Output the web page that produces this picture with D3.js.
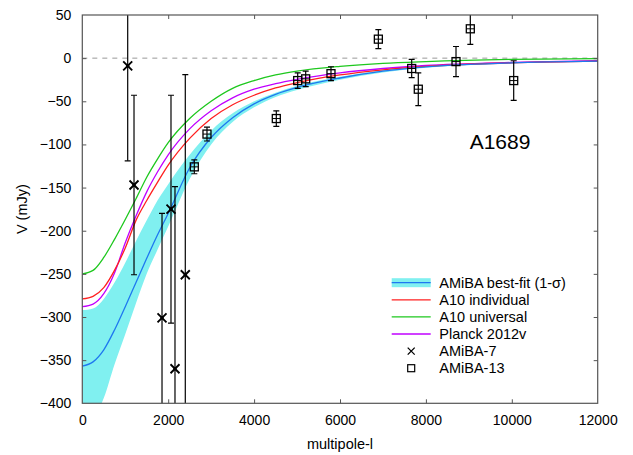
<!DOCTYPE html>
<html><head><meta charset="utf-8">
<script src="https://cdn.jsdelivr.net/npm/d3@7"></script>
<style>
body{margin:0;background:#fff;}
text{font-family:"Liberation Sans",Arial,sans-serif;}
</style></head>
<body><svg id="c" width="633" height="455"></svg>
<script>
// multipole grid for model curves
const ells = [0,250,500,750,1000,1250,1500,1750,2000,2500,3000,3500,4000,4500,5000,6000,7000,8000,10000,12000];
const amibaFit   = [-357,-352,-338,-315,-288,-260,-232,-205,-180,-127,-92,-69,-53,-42,-34,-23,-15,-10,-5.5,-3.5];
const amibaUpper = [-292,-290,-279,-260,-237,-212,-188,-165,-146,-112,-84,-64,-50,-40,-32,-21.5,-14,-9,-5,-3];
const amibaLower = [-440,-420,-394,-355,-320,-284,-250,-222,-195,-140,-100,-74,-57,-45,-37,-25,-16.5,-11,-6,-4];
const a10Indiv   = [-279,-276,-266,-246,-220,-188,-165,-144,-124,-93,-70,-54,-43,-34.5,-28.5,-19.5,-13.5,-9.5,-5.5,-3.5];
const a10Univ    = [-250,-246,-231,-210,-187,-163,-138,-117,-98,-70,-50,-35,-26,-19.5,-15,-9.5,-6,-4,-1.5,-0.5];
const planck     = [-288,-285,-273,-249,-214,-183,-155,-132,-112,-82,-61,-46,-36,-29.5,-24.5,-17,-12,-8.5,-5,-3];

// AMiBA-7 data
const a7l   = [1057,1204,1856,2065,2158,2398];
const a7V   = [-9,-147,-301,-175,-360,-251];
const a7err = [110,104,121,132,211,232];
// AMiBA-13 data
const a13l   = [2608,2903,4517,5015,5201,5790,6893,7669,7823,8701,9034,10044];
const a13V   = [-126,-88,-70,-26,-24,-18,22,-12,-36,-4,34,-26];
const a13err = [8,8,9,9,9,8,11,10.5,19,17.5,18,23];

const xTicks = [0,2000,4000,6000,8000,10000,12000];
const yTicks = [50,0,-50,-100,-150,-200,-250,-300,-350,-400];

const legendLabels = ["AMiBA best-fit (1-\u03c3)","A10 individual","A10 universal","Planck 2012v","AMiBA-7","AMiBA-13"];

const L=82.3,R=597.7,T=15,B=403.3;
const x=d3.scaleLinear().domain([0,12000]).range([L,R]);
const y=d3.scaleLinear().domain([-400,50]).range([B,T]);
const svg=d3.select("#c");
const axisCol="#555";

svg.append("defs").append("clipPath").attr("id","clip")
  .append("rect").attr("x",L).attr("y",T).attr("width",R-L).attr("height",B-T);

const plot=svg.append("g").attr("clip-path","url(#clip)");

// zero line
plot.append("line").attr("x1",L).attr("x2",R).attr("y1",y(0)).attr("y2",y(0))
  .attr("stroke","#999").attr("stroke-width",1).attr("stroke-dasharray","5,5");

// band
const area=d3.area().x((d,i)=>x(ells[i])).y0((d,i)=>y(amibaLower[i])).y1((d,i)=>y(amibaUpper[i])).curve(d3.curveMonotoneX);
plot.append("path").datum(ells).attr("d",area).attr("fill","#80f0f0");

const line=arr=>d3.line().x((d,i)=>x(ells[i])).y((d,i)=>y(arr[i])).curve(d3.curveMonotoneX)(ells);
[[a10Univ,"#1ec81e"],[planck,"#c000ff"],[a10Indiv,"#ff2020"],[amibaFit,"#1e78f0"]].forEach(([arr,c])=>{
  plot.append("path").attr("d",line(arr)).attr("fill","none").attr("stroke",c).attr("stroke-width",1.3);
});

// error bars
function errbar(g,l,v,e){
  const cx=x(l);
  g.append("line").attr("x1",cx).attr("x2",cx).attr("y1",y(v+e)).attr("y2",y(v-e)).attr("stroke","#000").attr("stroke-width",1.2);
  [v+e,v-e].forEach(t=>g.append("line").attr("x1",cx-3).attr("x2",cx+3).attr("y1",y(t)).attr("y2",y(t)).attr("stroke","#000").attr("stroke-width",1.2));
}
a7l.forEach((l,i)=>{
  errbar(plot,l,a7V[i],a7err[i]);
  const cx=x(l),cy=y(a7V[i]),s=4.5;
  plot.append("path").attr("d",`M${cx-s},${cy-s}L${cx+s},${cy+s}M${cx-s},${cy+s}L${cx+s},${cy-s}`)
    .attr("stroke","#000").attr("stroke-width",1.9);
  plot.append("circle").attr("cx",cx).attr("cy",cy).attr("r",1.8).attr("fill","#000");
});
a13l.forEach((l,i)=>{
  errbar(plot,l,a13V[i],a13err[i]);
  const cx=x(l),cy=y(a13V[i]),s=4;
  plot.append("rect").attr("x",cx-s).attr("y",cy-s).attr("width",2*s).attr("height",2*s)
    .attr("fill","none").attr("stroke","#000").attr("stroke-width",1.3);
  plot.append("line").attr("x1",cx-s).attr("x2",cx+s).attr("y1",cy).attr("y2",cy).attr("stroke","#000").attr("stroke-width",1);
});

// axes
const fs="14px";
const gx=svg.append("g").attr("transform",`translate(0,${B})`)
  .call(d3.axisBottom(x).tickValues(xTicks).tickSize(-4).tickPadding(12).tickFormat(d3.format("d")));
const gxt=svg.append("g").attr("transform",`translate(0,${T})`)
  .call(d3.axisTop(x).tickValues(xTicks).tickSize(-4).tickFormat(""));
const gy=svg.append("g").attr("transform",`translate(${L},0)`)
  .call(d3.axisLeft(y).tickValues(yTicks).tickSize(-4).tickPadding(11).tickFormat(d3.format("d")));
const gyr=svg.append("g").attr("transform",`translate(${R},0)`)
  .call(d3.axisRight(y).tickValues(yTicks).tickSize(-4).tickFormat(""));
[gx,gxt,gy,gyr].forEach(g=>{
  g.select(".domain").remove();
  g.selectAll(".tick line").attr("stroke",axisCol);
  g.selectAll("text").attr("font-size",fs).attr("fill","#000").attr("font-family","Liberation Sans, Arial, sans-serif");
});
gx.selectAll(".tick").filter(d=>d===0||d===12000).select("line").remove();
gxt.selectAll(".tick").filter(d=>d===0||d===12000).select("line").remove();
gy.selectAll(".tick").filter(d=>d===50||d===-400).select("line").remove();
gyr.selectAll(".tick").filter(d=>d===50||d===-400).select("line").remove();

svg.append("rect").attr("x",L).attr("y",T).attr("width",R-L).attr("height",B-T)
  .attr("fill","none").attr("stroke",axisCol).attr("stroke-width",1.2);

// titles
svg.append("text").attr("x",(L+R)/2).attr("y",449).attr("text-anchor","middle").attr("font-size","14.5px").text("multipole-l");
svg.append("text").attr("transform",`translate(27,${(T+B)/2}) rotate(-90)`).attr("text-anchor","middle").attr("font-size","14.5px").text("V (mJy)");
svg.append("text").attr("x",500).attr("y",149).attr("text-anchor","middle").attr("font-size","21px").text("A1689");

// legend
const lx1=391.7,lx2=430.7,tx=439.3,ly0=282.7,dy=17.1;
const lg=svg.append("g");
legendLabels.forEach((lab,i)=>{
  const yy=ly0+i*dy;
  if(i===0){
    lg.append("rect").attr("x",lx1).attr("y",yy-4.5).attr("width",lx2-lx1).attr("height",9).attr("fill","#80f0f0");
    lg.append("line").attr("x1",lx1).attr("x2",lx2).attr("y1",yy).attr("y2",yy).attr("stroke","#1e78f0").attr("stroke-width",1.3);
  } else if(i<4){
    const c=["#ff2020","#1ec81e","#c000ff"][i-1];
    lg.append("line").attr("x1",lx1).attr("x2",lx2).attr("y1",yy).attr("y2",yy).attr("stroke",c).attr("stroke-width",1.3);
  } else if(i===4){
    const cx=(lx1+lx2)/2,s=3.5;
    lg.append("path").attr("d",`M${cx-s},${yy-s}L${cx+s},${yy+s}M${cx-s},${yy+s}L${cx+s},${yy-s}`).attr("stroke","#000").attr("stroke-width",1.3);
  } else {
    const cx=(lx1+lx2)/2,s=3.5;
    lg.append("rect").attr("x",cx-s).attr("y",yy-s).attr("width",2*s).attr("height",2*s).attr("fill","none").attr("stroke","#000").attr("stroke-width",1.2);
  }
  lg.append("text").attr("x",tx).attr("y",yy).attr("dy","0.35em").attr("font-size","14.5px").text(lab);
});
</script></body></html>
